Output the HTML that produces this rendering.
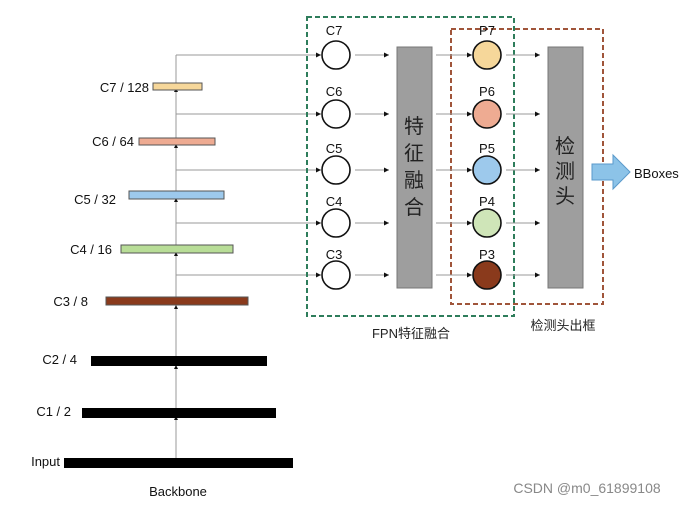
<!DOCTYPE html>
<html><head><meta charset="utf-8"><style>body{margin:0;background:#fff}svg{display:block}</style></head><body>
<svg width="690" height="505" viewBox="0 0 690 505" xmlns="http://www.w3.org/2000/svg" font-family="Liberation Sans, Noto Sans CJK SC, sans-serif">
<defs><marker id="a" markerWidth="6" markerHeight="6" refX="5" refY="3" orient="auto" markerUnits="userSpaceOnUse"><path d="M0,0.5 L5,3 L0,5.5z" fill="#111"/></marker></defs>
<!-- backbone vertical -->
<line x1="176" y1="55" x2="176" y2="460" stroke="#999" stroke-width="1"/>
<g fill="#111">
<path d="M174,92 L176,88 L178,92z"/><path d="M174,148 L176,144 L178,148z"/><path d="M174,202 L176,198 L178,202z"/><path d="M174,256 L176,252 L178,256z"/><path d="M174,309 L176,305 L178,309z"/><path d="M174,369 L176,365 L178,369z"/><path d="M174,420 L176,416 L178,420z"/>
</g>
<!-- branches -->
<g stroke="#999" stroke-width="1" marker-end="url(#a)">
<line x1="176" y1="55" x2="321" y2="55"/><line x1="176" y1="114" x2="321" y2="114"/><line x1="176" y1="170" x2="321" y2="170"/><line x1="176" y1="223" x2="321" y2="223"/><line x1="176" y1="275" x2="321" y2="275"/>
</g>
<!-- bars -->
<rect x="153" y="83" width="49" height="7" fill="#f6d79a" stroke="#555"/>
<rect x="139" y="138" width="76" height="7" fill="#eeab92" stroke="#555"/>
<rect x="129" y="191" width="95" height="8" fill="#9dc9ec" stroke="#555"/>
<rect x="121" y="245" width="112" height="8" fill="#b8dd97" stroke="#555"/>
<rect x="106" y="297" width="142" height="8" fill="#8a3a1c" stroke="#555"/>
<rect x="91" y="356" width="176" height="10" fill="#000"/>
<rect x="82" y="408" width="194" height="10" fill="#000"/>
<rect x="64" y="458" width="229" height="10" fill="#000"/>
<g font-size="13" fill="#111" text-anchor="end">
<text x="149" y="92">C7 / 128</text><text x="134" y="146">C6 / 64</text><text x="116" y="204">C5 / 32</text><text x="112" y="254">C4 / 16</text><text x="88" y="306">C3 / 8</text><text x="77" y="364">C2 / 4</text><text x="71" y="416">C1 / 2</text><text x="60" y="466">Input</text>
</g>
<text x="178" y="496" font-size="13" text-anchor="middle" fill="#111">Backbone</text>
<!-- boxes -->
<rect x="307" y="17" width="207" height="299" fill="none" stroke="#2e7d5b" stroke-width="2" stroke-dasharray="5,3"/>
<rect x="451" y="29" width="152" height="275" fill="none" stroke="#a0553a" stroke-width="2" stroke-dasharray="5,3"/>
<rect x="397" y="47" width="35" height="241" fill="#9e9e9e" stroke="#777"/>
<rect x="548" y="47" width="35" height="241" fill="#9e9e9e" stroke="#777"/>
<g font-size="20" fill="#222" text-anchor="middle"><text x="414" y="133">特</text><text x="414" y="160">征</text><text x="414" y="187">融</text><text x="414" y="214">合</text>
<text x="565" y="153">检</text><text x="565" y="178">测</text><text x="565" y="203">头</text></g>
<!-- circles -->
<g stroke="#111" stroke-width="1.6">
<circle cx="336" cy="55" r="14" fill="#fff"/><circle cx="336" cy="114" r="14" fill="#fff"/><circle cx="336" cy="170" r="14" fill="#fff"/><circle cx="336" cy="223" r="14" fill="#fff"/><circle cx="336" cy="275" r="14" fill="#fff"/>
<circle cx="487" cy="55" r="14" fill="#f6d79a"/><circle cx="487" cy="114" r="14" fill="#eeab92"/><circle cx="487" cy="170" r="14" fill="#9dc9ec"/><circle cx="487" cy="223" r="14" fill="#cfe5b8"/><circle cx="487" cy="275" r="14" fill="#8a3a1c"/>
</g>
<g font-size="13" fill="#111" text-anchor="middle">
<text x="334" y="35">C7</text><text x="334" y="96">C6</text><text x="334" y="153">C5</text><text x="334" y="206">C4</text><text x="334" y="259">C3</text>
<text x="487" y="35">P7</text><text x="487" y="96">P6</text><text x="487" y="153">P5</text><text x="487" y="206">P4</text><text x="487" y="259">P3</text>
</g>
<g stroke="#999" stroke-width="1" marker-end="url(#a)">
<line x1="355" y1="55" x2="389" y2="55"/><line x1="355" y1="114" x2="389" y2="114"/><line x1="355" y1="170" x2="389" y2="170"/><line x1="355" y1="223" x2="389" y2="223"/><line x1="355" y1="275" x2="389" y2="275"/>
<line x1="436" y1="55" x2="472" y2="55"/><line x1="436" y1="114" x2="472" y2="114"/><line x1="436" y1="170" x2="472" y2="170"/><line x1="436" y1="223" x2="472" y2="223"/><line x1="436" y1="275" x2="472" y2="275"/>
<line x1="506" y1="55" x2="540" y2="55"/><line x1="506" y1="114" x2="540" y2="114"/><line x1="506" y1="170" x2="540" y2="170"/><line x1="506" y1="223" x2="540" y2="223"/><line x1="506" y1="275" x2="540" y2="275"/>
</g>
<path d="M592,164 L613,164 L613,155 L630,172 L613,189 L613,180 L592,180z" fill="#8cc3e8" stroke="#5a9acb"/>
<text x="634" y="178" font-size="13" fill="#111">BBoxes</text>
<text x="411" y="338" font-size="13" text-anchor="middle" fill="#222">FPN特征融合</text>
<text x="563" y="330" font-size="13" text-anchor="middle" fill="#222">检测头出框</text>
<text x="587" y="493" font-size="14" text-anchor="middle" fill="#888">CSDN @m0_61899108</text>
</svg>
</body></html>
